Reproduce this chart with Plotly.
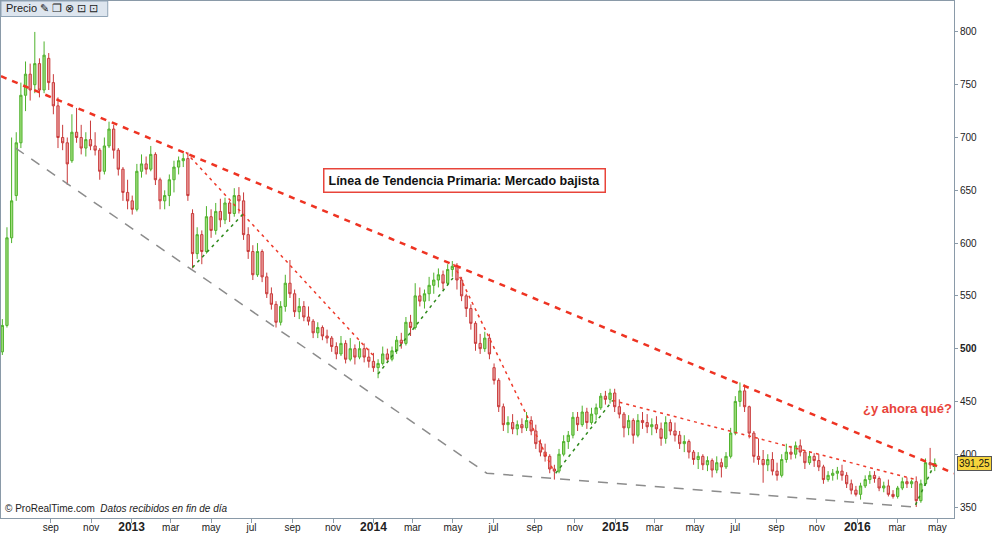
import pandas as pd
import plotly.graph_objects as go

# weekly candles (first week starting 2012-06-20)
opens = [497, 522, 605, 645, 695, 740, 760, 750, 770, 745, 775, 752, 730, 700, 695, 678, 705, 700, 690, 698,
         692, 688, 668, 692, 708, 688, 670, 648, 640, 632, 668, 675, 670, 684, 660, 640, 645, 660, 672, 678,
         680, 628, 590, 608, 592, 625, 612, 630, 622, 638, 628, 645, 640, 608, 592, 570, 592, 568, 552, 542,
         525, 540, 562, 552, 535, 540, 530, 526, 515, 520, 512, 510, 502, 495, 505, 490, 500, 492, 500, 492,
         488, 482, 486, 495, 490, 498, 508, 505, 525, 520, 550, 545, 552, 560, 565, 570, 562, 575, 578, 565,
         550, 538, 524, 505, 500, 510, 482, 470, 445, 428, 430, 424, 428, 425, 432, 422, 410, 402, 398, 386,
         384, 400, 412, 418, 435, 428, 440, 430, 438, 444, 455, 452, 458, 445, 438, 425, 432, 418, 432, 430,
         426, 428, 424, 415, 430, 422, 418, 410, 412, 402, 395, 398, 390, 394, 385, 392, 388, 398, 420, 450,
         460, 445, 420, 398, 395, 390, 395, 384, 380, 395, 402, 400, 408, 402, 392, 398, 394, 388, 376, 380,
         382, 384, 380, 372, 366, 362, 370, 376, 380, 377, 368, 370, 362, 360, 368, 374, 372, 374, 356, 372,
         392, 390]
highs = [528, 615, 700, 705, 752, 772, 770, 800, 775, 791, 780, 760, 738, 712, 700, 722, 728, 712, 705, 716,
         705, 690, 700, 715, 712, 690, 672, 660, 645, 675, 684, 682, 692, 686, 662, 650, 665, 678, 682, 685,
         686, 632, 615, 612, 635, 632, 638, 642, 643, 640, 652, 653, 648, 615, 598, 600, 594, 572, 558, 545,
         545, 570, 584, 556, 548, 545, 540, 528, 525, 522, 518, 512, 506, 512, 508, 510, 504, 507, 505, 500,
         496, 490, 502, 500, 502, 512, 515, 530, 532, 562, 558, 556, 568, 572, 576, 574, 580, 583, 581, 568,
         552, 542, 526, 514, 516, 514, 486, 472, 448, 436, 438, 432, 434, 440, 436, 428, 414, 410, 400, 390,
         405, 418, 422, 440, 440, 446, 444, 444, 448, 458, 460, 462, 462, 452, 440, 437, 434, 438, 440, 438,
         434, 436, 430, 436, 433, 430, 422, 418, 414, 404, 402, 400, 398, 396, 398, 396, 402, 425, 455, 468,
         466, 446, 422, 415, 404, 400, 402, 392, 400, 410, 408, 412, 414, 404, 403, 401, 400, 390, 384, 386,
         388, 390, 383, 376, 370, 373, 380, 384, 384, 379, 374, 376, 366, 370, 378, 378, 376, 379, 376, 396,
         406, 396]
lows = [494, 520, 600, 640, 690, 725, 735, 742, 738, 742, 745, 722, 690, 688, 655, 676, 695, 684, 682, 688,
        683, 660, 665, 690, 680, 664, 640, 632, 627, 630, 662, 665, 668, 655, 632, 632, 635, 648, 665, 672,
        640, 576, 585, 580, 590, 605, 608, 615, 618, 620, 625, 628, 603, 585, 565, 568, 563, 548, 537, 520,
        522, 535, 548, 530, 528, 526, 522, 510, 510, 508, 505, 497, 490, 493, 486, 488, 485, 490, 487, 482,
        478, 472, 484, 487, 488, 495, 500, 503, 512, 518, 540, 538, 545, 552, 558, 556, 560, 568, 556, 545,
        530, 518, 498, 495, 497, 490, 466, 440, 422, 420, 419, 418, 420, 422, 418, 405, 398, 393, 382, 376,
        382, 398, 405, 415, 422, 426, 424, 428, 432, 442, 447, 448, 440, 434, 416, 418, 410, 416, 424, 420,
        418, 420, 408, 410, 418, 412, 405, 402, 396, 390, 386, 385, 384, 378, 382, 378, 386, 396, 418, 445,
        440, 415, 392, 390, 373, 384, 380, 375, 378, 392, 395, 396, 398, 386, 390, 388, 384, 372, 374, 375,
        376, 375, 368, 362, 360, 357, 368, 372, 373, 365, 364, 360, 358, 358, 366, 368, 368, 350, 354, 370,
        386, 384]
closes = [522, 605, 640, 695, 740, 760, 745, 770, 745, 778, 752, 730, 700, 695, 675, 705, 700, 690, 698, 692,
          688, 668, 692, 708, 688, 670, 648, 640, 632, 668, 675, 670, 684, 660, 640, 645, 660, 672, 678, 680,
          645, 590, 608, 592, 625, 612, 630, 622, 638, 628, 645, 640, 608, 592, 570, 592, 568, 552, 542, 525,
          540, 562, 552, 535, 540, 530, 526, 515, 520, 512, 510, 502, 495, 505, 490, 500, 492, 500, 492, 488,
          482, 486, 495, 490, 498, 508, 505, 525, 520, 550, 545, 552, 560, 565, 570, 562, 575, 578, 565, 550,
          538, 524, 505, 500, 510, 495, 470, 445, 428, 430, 424, 428, 425, 432, 422, 410, 402, 398, 386, 384,
          400, 412, 418, 435, 428, 440, 430, 438, 444, 455, 452, 458, 445, 438, 425, 432, 418, 432, 430, 426,
          428, 424, 415, 430, 422, 418, 410, 412, 402, 395, 398, 390, 394, 385, 392, 388, 398, 420, 450, 460,
          445, 420, 398, 395, 390, 395, 384, 380, 395, 402, 400, 408, 402, 392, 398, 394, 388, 376, 380, 382,
          384, 380, 372, 366, 362, 370, 376, 380, 377, 368, 370, 362, 360, 368, 374, 372, 374, 356, 372, 392,
          390, 391.25]
weeks = pd.date_range("2012-06-20", periods=len(closes), freq="7D")

# drawn trend lines: (dates, prices)
primary_x = ["2012-06-18", "2016-05-26"]
primary_y = [758, 382]
support_x = ["2012-07-10", "2014-06-21", "2016-03-26"]
support_y = [690, 382, 350]
red_segments = [
    (["2013-03-24", "2013-12-31"], [686, 494]),
    (["2014-05-02", "2014-09-30"], [580, 384]),
    (["2014-12-28", "2016-03-29"], [451, 376]),
]
green_segments = [
    (["2013-04-03", "2013-06-19"], [577, 628]),
    (["2014-01-08", "2014-05-01"], [476, 567]),
    (["2014-10-03", "2014-12-28"], [382, 451]),
    (["2016-03-29", "2016-04-26"], [352, 390]),
]

month_ticks = pd.date_range("2012-09-01", "2016-05-01", freq="2MS")
month_names = {1: "ene", 3: "mar", 5: "may", 7: "jul", 9: "sep", 11: "nov"}
month_labels = ['<b><span style="font-size:12px">%d</span></b>' % d.year if d.month == 1
                else month_names[d.month] for d in month_ticks]
price_ticks = [350, 400, 450, 500, 550, 600, 650, 700, 750, 800]
price_labels = ["<b>500</b>" if p == 500 else str(p) for p in price_ticks]

fig = go.Figure()

fig.add_trace(go.Candlestick(
    x=weeks, open=opens, high=highs, low=lows, close=closes,
    increasing=dict(line=dict(color="#4fb22c", width=1), fillcolor="#9fdc7c"),
    decreasing=dict(line=dict(color="#c93a3a", width=1), fillcolor="#eba3a3"),
    whiskerwidth=0, showlegend=False, hoverinfo="skip",
))

fig.add_trace(go.Scatter(x=support_x, y=support_y, mode="lines",
                         line=dict(color="#8c8c8c", width=1.5, dash="10px,9px"),
                         showlegend=False, hoverinfo="skip"))
for xs, ys in red_segments:
    fig.add_trace(go.Scatter(x=xs, y=ys, mode="lines",
                             line=dict(color="#ee3a2a", width=1.5, dash="3px,4px"),
                             showlegend=False, hoverinfo="skip"))
for xs, ys in green_segments:
    fig.add_trace(go.Scatter(x=xs, y=ys, mode="lines",
                             line=dict(color="#2f8a1c", width=1.5, dash="3px,4px"),
                             showlegend=False, hoverinfo="skip"))
fig.add_trace(go.Scatter(x=primary_x, y=primary_y, mode="lines", cliponaxis=False,
                         line=dict(color="#ee3322", width=2.5, dash="6px,6px"),
                         showlegend=False, hoverinfo="skip"))

fig.update_layout(
    width=1000, height=533,
    margin=dict(l=1, r=46, t=1, b=15),
    paper_bgcolor="white", plot_bgcolor="white",
    font=dict(family="Liberation Sans, Arial, sans-serif", size=10, color="#222"),
    xaxis=dict(
        type="date", range=["2012-06-18", "2016-05-26"], rangeslider=dict(visible=False),
        tickvals=month_ticks, ticktext=month_labels, ticks="outside", ticklen=4,
        ticklabelstandoff=-4,
        tickcolor="#8a9aa8", showgrid=False, zeroline=False, automargin=False,
        showline=True, linecolor="#8a9aa8", linewidth=1, mirror=True,
        tickfont=dict(size=10),
    ),
    yaxis=dict(
        side="right", range=[339.6, 829.3], tickvals=price_ticks, ticktext=price_labels,
        ticks="outside", ticklen=3, tickcolor="#8a9aa8", showgrid=False, zeroline=False,
        automargin=False, showline=True, linecolor="#8a9aa8", linewidth=1, mirror=True,
        tickfont=dict(size=10),
    ),
)

# toolbar in top-left
fig.add_shape(type="rect", xref="paper", yref="paper", x0=0, x1=0.112, y0=0.970, y1=1,
              fillcolor="#dde5ee", line=dict(color="#8fa3b5", width=1))
fig.add_annotation(xref="paper", yref="paper", x=0.003, y=0.986, xanchor="left", yanchor="middle",
                   text="Precio ✎ ❐ ⊗ ⊡ ⊡", showarrow=False,
                   font=dict(family="Liberation Sans, Arial", size=11, color="#222"))

fig.add_annotation(xref="paper", yref="paper", x=0.486, y=0.653, xanchor="center", yanchor="middle",
                   text="<b>Línea de Tendencia Primaria: Mercado bajista</b>", showarrow=False,
                   bgcolor="white", bordercolor="#e8443a", borderwidth=1.5, borderpad=4,
                   font=dict(family="Liberation Sans, Arial", size=12.5, color="#111"))
fig.add_annotation(xref="paper", yref="paper", x=0.951, y=0.212, xanchor="center", yanchor="middle",
                   text="<b>¿y ahora qué?</b>", showarrow=False,
                   font=dict(family="Liberation Sans, Arial", size=13, color="#e8443a"))
fig.add_annotation(xref="paper", yref="paper", x=0.002, y=0.004, xanchor="left", yanchor="bottom",
                   text="© ProRealTime.com  <i>Datos recibidos en fin de día</i>", showarrow=False,
                   font=dict(family="Liberation Sans, Arial", size=10, color="#222"))
fig.add_annotation(xref="paper", yref="y", x=1.003, y=closes[-1], xanchor="left", yanchor="middle",
                   text="391,25", showarrow=False, bgcolor="#f6d43c", bordercolor="#555",
                   borderwidth=1, borderpad=1,
                   font=dict(family="Liberation Sans, Arial", size=10, color="#111"))

# the page body has a default 8px margin; remove it so the figure fills the window
fig.write_html("out.html", config={"displayModeBar": False},
               post_script="document.body.style.margin='0';")
